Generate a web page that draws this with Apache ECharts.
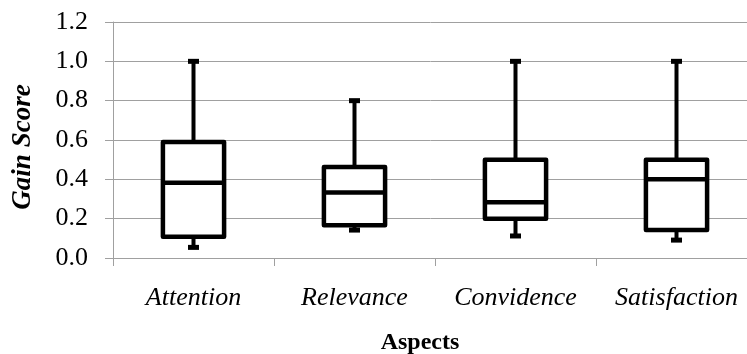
<!DOCTYPE html>
<html><head><meta charset="utf-8">
<script src="https://cdn.jsdelivr.net/npm/echarts@6/dist/echarts.min.js"></script>
<style>html,body{margin:0;padding:0;background:#fff}#c{width:747px;height:354px}</style>
</head><body><div id="c"></div>
<script>
var categories = ['Attention', 'Relevance', 'Convidence', 'Satisfaction'];
var minValues = [0.054, 0.142, 0.112, 0.091];
var q1Values = [0.108, 0.166, 0.200, 0.142];
var medianValues = [0.382, 0.333, 0.283, 0.400];
var q3Values = [0.590, 0.463, 0.500, 0.500];
var maxValues = [1.0, 0.80, 1.0, 1.0];
var yTicks = [0, 0.2, 0.4, 0.6, 0.8, 1.0, 1.2];

var data = categories.map(function (c, i) {
  return [i, minValues[i], q1Values[i], medianValues[i], q3Values[i], maxValues[i]];
});

var chart = echarts.init(document.getElementById('c'));
var serif = '"Liberation Serif", "Times New Roman", serif';
chart.setOption({
  animation: false,
  grid: { left: 113, top: 22, width: 644, height: 236, outerBoundsMode: 'none', containLabel: false },
  xAxis: {
    type: 'category', data: categories,
    name: 'Aspects', nameLocation: 'middle', nameGap: 73,
    nameTextStyle: { fontFamily: serif, fontWeight: 'bold', fontSize: 24, color: '#000', padding: [0, 30, 0, 0] },
    axisLine: { lineStyle: { color: '#a0a0a0', width: 1 } },
    axisTick: { show: true, length: 8, lineStyle: { color: '#a0a0a0' } },
    axisLabel: { fontFamily: serif, fontStyle: 'italic', fontSize: 26, color: '#000', margin: 27 },
    splitLine: { show: false }
  },
  yAxis: {
    type: 'value', min: 0, max: 1.2, interval: 0.2,
    name: 'Gain Score', nameLocation: 'middle', nameGap: 76,
    nameTextStyle: { fontFamily: serif, fontWeight: 'bold', fontStyle: 'italic', fontSize: 27, color: '#000', padding: [0, 14, 0, 0] },
    axisLine: { show: true, lineStyle: { color: '#a0a0a0', width: 1 } },
    axisTick: { show: true, length: 8, lineStyle: { color: '#a0a0a0' } },
    axisLabel: { fontFamily: serif, fontSize: 26, color: '#000', margin: 25,
      formatter: function (v) { return v.toFixed(1); } },
    splitLine: { lineStyle: { color: '#a0a0a0', width: 1 } }
  },
  series: [{
    type: 'custom',
    data: data,
    encode: { x: 0, y: [1, 2, 3, 4, 5] },
    renderItem: function (params, api) {
      var x = api.value(0);
      var pMin = api.coord([x, api.value(1)]);
      var pQ1 = api.coord([x, api.value(2)]);
      var pMed = api.coord([x, api.value(3)]);
      var pQ3 = api.coord([x, api.value(4)]);
      var pMax = api.coord([x, api.value(5)]);
      var bw = api.size([1, 0])[0] * 0.38;
      var cx = pMed[0];
      var cap = 11;
      return {
        type: 'group',
        children: [
          { type: 'line', shape: { x1: cx, y1: pQ3[1], x2: cx, y2: pMax[1] }, style: { stroke: '#000', lineWidth: 4 } },
          { type: 'line', shape: { x1: cx, y1: pQ1[1], x2: cx, y2: pMin[1] }, style: { stroke: '#000', lineWidth: 4 } },
          { type: 'rect', shape: { x: cx - cap / 2, y: pMax[1] - 2.5, width: cap, height: 5 }, style: { fill: '#000' } },
          { type: 'rect', shape: { x: cx - cap / 2, y: pMin[1] - 2.5, width: cap, height: 5 }, style: { fill: '#000' } },
          { type: 'rect', shape: { x: cx - bw / 2, y: pQ3[1], width: bw, height: pQ1[1] - pQ3[1] }, style: { stroke: '#000', lineWidth: 4.5, fill: '#fff', lineJoin: 'round' } },
          { type: 'line', shape: { x1: cx - bw / 2, y1: pMed[1], x2: cx + bw / 2, y2: pMed[1] }, style: { stroke: '#000', lineWidth: 4.5 } }
        ]
      };
    }
  }]
});
</script></body></html>
